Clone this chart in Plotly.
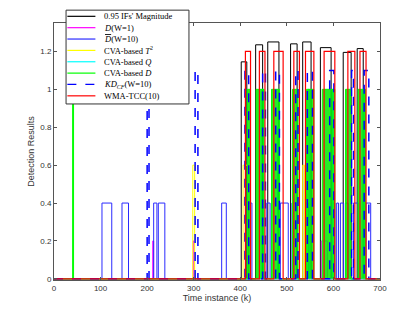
import plotly.graph_objects as go

# pulses: start k, end k, level
black_start = [402, 433, 459, 508, 534, 572, 621, 651]
black_end = [414, 448, 483, 522, 552, 595, 638, 664]
black_level = [1.145, 1.235, 1.25, 1.24, 1.25, 1.22, 1.195, 1.215]

mag_start = [212, 299, 574]
mag_end = [214, 301, 587]
mag_level = [0.2, 0.2, 0.2]

dbar_start = [103, 146, 214, 224, 360, 418, 457, 486, 511, 540, 596, 607, 615, 626, 643, 670]
dbar_end = [124, 160, 221, 238, 370, 425, 464, 503, 521, 547, 603, 611, 622, 632, 654, 680]
dbar_level = [0.4] * 16

t2_start = [298, 406, 534]
t2_end = [302, 416, 538]
t2_level = [0.6, 0.6, 0.6]

q_start = [446, 480, 545, 598, 664]
q_end = [450, 484, 548, 601, 667]
q_level = [1.0, 0.8, 1.0, 1.0, 1.0]

d_start = [40, 415, 434, 467, 512, 542, 576, 626, 653]
d_end = [42, 422, 451, 484, 524, 558, 603, 637, 669]
d_level = [1.0] * 9

kd_start = [200, 303, 410, 448, 476, 519, 544, 592, 639, 666]
kd_end = [204, 309, 418, 454, 484, 524, 555, 601, 643, 676]
kd_level = [1.1] * 10

wma_start = [411, 441, 472, 515, 540, 580, 631, 657]
wma_end = [422, 453, 492, 527, 558, 603, 646, 670]
wma_level = [1.2] * 8

K_MAX = 700


def step_xy(starts, ends, levels):
    xs, ys = [0], [0]
    for s, e, h in zip(starts, ends, levels):
        xs += [s, s, e, e]
        ys += [0, h, h, 0]
    xs.append(K_MAX)
    ys.append(0)
    return xs, ys


series = [
    ("0.95 IFs' Magnitude", black_start, black_end, black_level, '#000000', 'solid', 1.0, False),
    ("<i>D</i>(W=1)", mag_start, mag_end, mag_level, '#ff00ff', 'solid', 1.0, False),
    ("<span style='text-decoration:overline'><i>D</i></span>(W=10)", dbar_start, dbar_end, dbar_level, '#2b2bff', 'solid', 1.0, False),
    ("CVA-based <i>T</i><sup>2</sup>", t2_start, t2_end, t2_level, '#ffff00', 'solid', 1.0, False),
    ("CVA-based <i>Q</i>", q_start, q_end, q_level, '#00ffff', 'solid', 1.0, False),
    ("CVA-based <i>D</i>", d_start, d_end, d_level, '#00ff00', 'solid', 1.0, True),
    ("<i>KD</i><sub><i>CF</i></sub>(W=10)", kd_start, kd_end, kd_level, '#0000ff', 'dash', 1.5, False),
    ("WMA-TCC(10)", wma_start, wma_end, wma_level, '#ff0000', 'solid', 1.2, False),
]

fig = go.Figure()
for name, s, e, h, col, dash, w, filled in series:
    xs, ys = step_xy(s, e, h)
    fig.add_trace(go.Scatter(
        x=xs, y=ys, mode='lines', name=name, showlegend=False,
        line=dict(color=col, width=w, dash=dash),
        fill='tozeroy' if filled else None,
        fillcolor='rgba(0,235,0,0.85)' if filled else None,
    ))

# hand-made legend (plotly's legend rows are too tall for this size)
leg_x0, leg_x1 = 0.037, 0.414
leg_top, leg_bot = 1.05, 0.685
row_h = 0.0442
shapes = [dict(type='rect', xref='paper', yref='paper', x0=leg_x0, x1=leg_x1, y0=leg_bot, y1=leg_top,
               fillcolor='white', line=dict(color='#333333', width=1), layer='above')]
annots = []
for i, (name, s, e, h, col, dash, w, filled) in enumerate(series):
    yy = leg_top - 0.024 - i * row_h
    shapes.append(dict(type='line', xref='paper', yref='paper', x0=0.041, x1=0.127, y0=yy, y1=yy,
                       line=dict(color=col, width=1.2, dash=dash), layer='above'))
    annots.append(dict(xref='paper', yref='paper', x=0.147, y=yy, text=name, showarrow=False,
                       xanchor='left', yanchor='middle',
                       font=dict(family='Liberation Serif, serif', size=8.5, color='#000000')))

axis_common = dict(
    showline=True, linecolor='#555555', linewidth=1, mirror='allticks',
    ticks='inside', ticklen=3, tickcolor='#555555', showgrid=False, zeroline=False,
    tickfont=dict(family='Liberation Sans, Arial', size=8, color='#333333'),
)

fig.update_xaxes(range=[0, 700], tickvals=[0, 100, 200, 300, 400, 500, 600, 700],
                 title=dict(text='Time instance (k)', font=dict(family='Liberation Sans, Arial', size=9, color='#333333'), standoff=2),
                 **axis_common)
fig.update_yaxes(range=[-0.006, 1.35], tickvals=[0, 0.2, 0.4, 0.6, 0.8, 1, 1.2],
                 title=dict(text='Detection Results', font=dict(family='Liberation Sans, Arial', size=9, color='#333333'), standoff=4),
                 **axis_common)

# page body has an 8px margin, so the figure is shrunk by that much
fig.update_layout(
    width=412, height=307,
    margin=dict(l=46, r=40, t=15, b=35),
    plot_bgcolor='white', paper_bgcolor='white',
    shapes=shapes, annotations=annots,
)

fig.write_html("out.html")
